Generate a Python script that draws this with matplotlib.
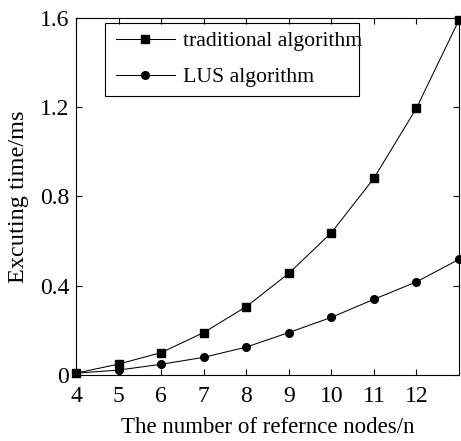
import matplotlib
matplotlib.use("Agg")
import matplotlib.pyplot as plt
from matplotlib.patches import Rectangle

nodes = [4, 5, 6, 7, 8, 9, 10, 11, 12, 13]
traditional = [0.008, 0.049, 0.10, 0.19, 0.306, 0.455, 0.637, 0.881, 1.195, 1.59]
lus = [0.008, 0.022, 0.048, 0.079, 0.125, 0.19, 0.258, 0.339, 0.417, 0.518]
xticks = [4, 5, 6, 7, 8, 9, 10, 11, 12]
yticks = [0, 0.4, 0.8, 1.2, 1.6]
ytick_labels = ["0", "0.4", "0.8", "1.2", "1.6"]

plt.rcParams['font.family'] = ['Liberation Serif', 'DejaVu Serif']

W, H = 461, 441
fig = plt.figure(figsize=(W/100, H/100), dpi=100)
ax = fig.add_axes([76/W, 1-375/H, 383/W, 357.3/H])

ax.plot(nodes, traditional, color='black', lw=0.75, marker='s', markersize=5.5,
        label='traditional algorithm', clip_on=False)
ax.plot(nodes, lus, color='black', lw=0.75, marker='o', markersize=5.5,
        label='LUS algorithm', clip_on=False)

ax.set_xlim(4, 13)
ax.set_ylim(0, 1.6)
ax.set_xticks(xticks)
ax.set_xticklabels([str(v) for v in xticks])
ax.set_yticks(yticks)
ax.set_yticklabels(ytick_labels)
ax.tick_params(direction='in', top=True, right=True, labelsize=17, length=4, width=0.8)
ax.tick_params(axis='x', pad=8)
ax.tick_params(axis='y', pad=5)
for s in ax.spines.values():
    s.set_linewidth(0.8)

ax.set_xlabel('The number of refernce nodes/n', fontsize=16.5, labelpad=7)
ax.set_ylabel('Excuting time/ms', fontsize=17.5, labelpad=8)

leg = ax.legend(loc='upper left', bbox_to_anchor=(116/W, 1-31/H),
                bbox_transform=fig.transFigure, fontsize=15.7,
                frameon=False, handlelength=2.7, borderpad=0, labelspacing=0.72,
                handletextpad=0.36, borderaxespad=0)

fig.patches.append(Rectangle((105/W, 1-96/H), 254/W, 73.3/H, transform=fig.transFigure,
                             fill=False, edgecolor='black', linewidth=0.8, zorder=1))

fig.savefig('out.png', dpi=100)
